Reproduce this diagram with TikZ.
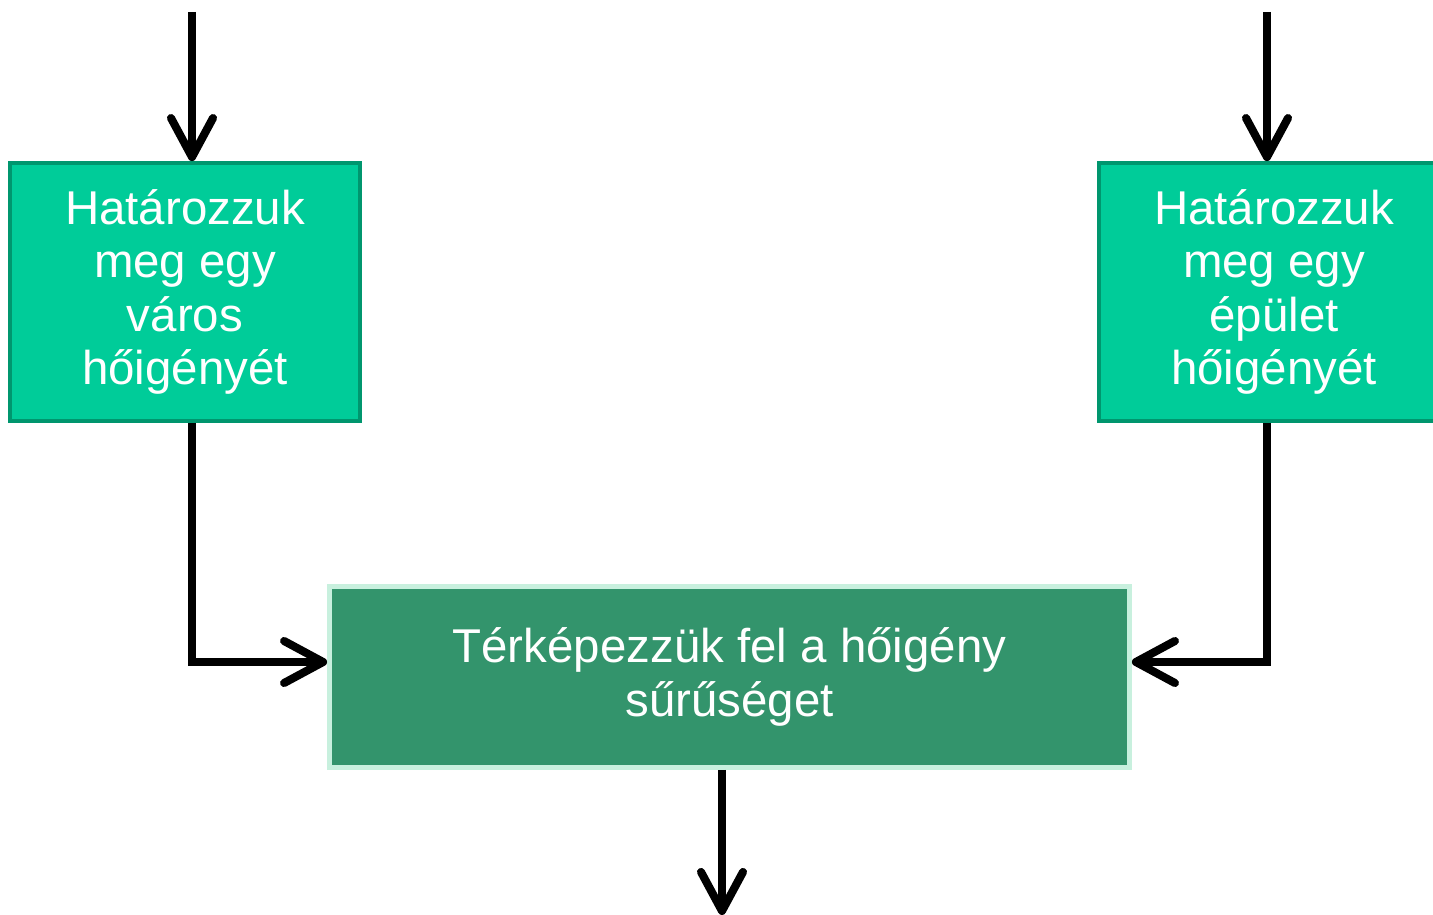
\documentclass[tikz,border=0pt]{standalone}
\usepackage{fontspec}
\setmainfont{Liberation Sans}
\usetikzlibrary{arrows.meta}
\definecolor{mint}{RGB}{0,204,153}
\definecolor{mintedge}{RGB}{0,150,110}
\definecolor{deepgreen}{RGB}{51,148,108}
\definecolor{paleedge}{RGB}{200,240,222}

\begin{document}
\begin{tikzpicture}[x=0.02cm,y=-0.02cm,
    stepbox/.style={draw=mintedge,fill=mint,line width=2.2pt,minimum width=7cm,minimum height=5.16cm,
        text=white,align=center,font=\fontsize{27}{30.5}\selectfont,inner sep=0pt},
    mapbox/.style={draw=paleedge,fill=deepgreen,line width=2.8pt,minimum width=16cm,minimum height=3.62cm,
        text=white,align=center,font=\fontsize{27}{30.5}\selectfont,inner sep=0pt},
    flow/.style={line width=4.6pt,-{Straight Barb[length=0.78cm,width=0.84cm,line cap=round,line join=round]}}]
    \useasboundingbox (0,0) rectangle (1433,915);

    \node[stepbox] (varos) at (185,292) {Határozzuk\\meg egy\\város\\hőigényét};
    \node[stepbox] (epulet) at (1274,292) {Határozzuk\\meg egy\\épület\\hőigényét};
    \node[mapbox] (suruseg) at (729.5,677) {Térképezzük fel a hőigény\\sűrűséget};

    \coordinate (vin) at (192,12);
    \coordinate (ein) at (1267,12);
    \coordinate (sout) at (722,915);

    \draw[flow] (vin) -- (vin |- varos.north);
    \draw[flow] (ein) -- (ein |- epulet.north);
    \draw[flow] (vin |- varos.south) |- ([yshift=3mm]suruseg.west);
    \draw[flow] (ein |- epulet.south) |- ([yshift=3mm]suruseg.east);
    \draw[flow] (sout |- suruseg.south) -- (sout);
\end{tikzpicture}
\end{document}
